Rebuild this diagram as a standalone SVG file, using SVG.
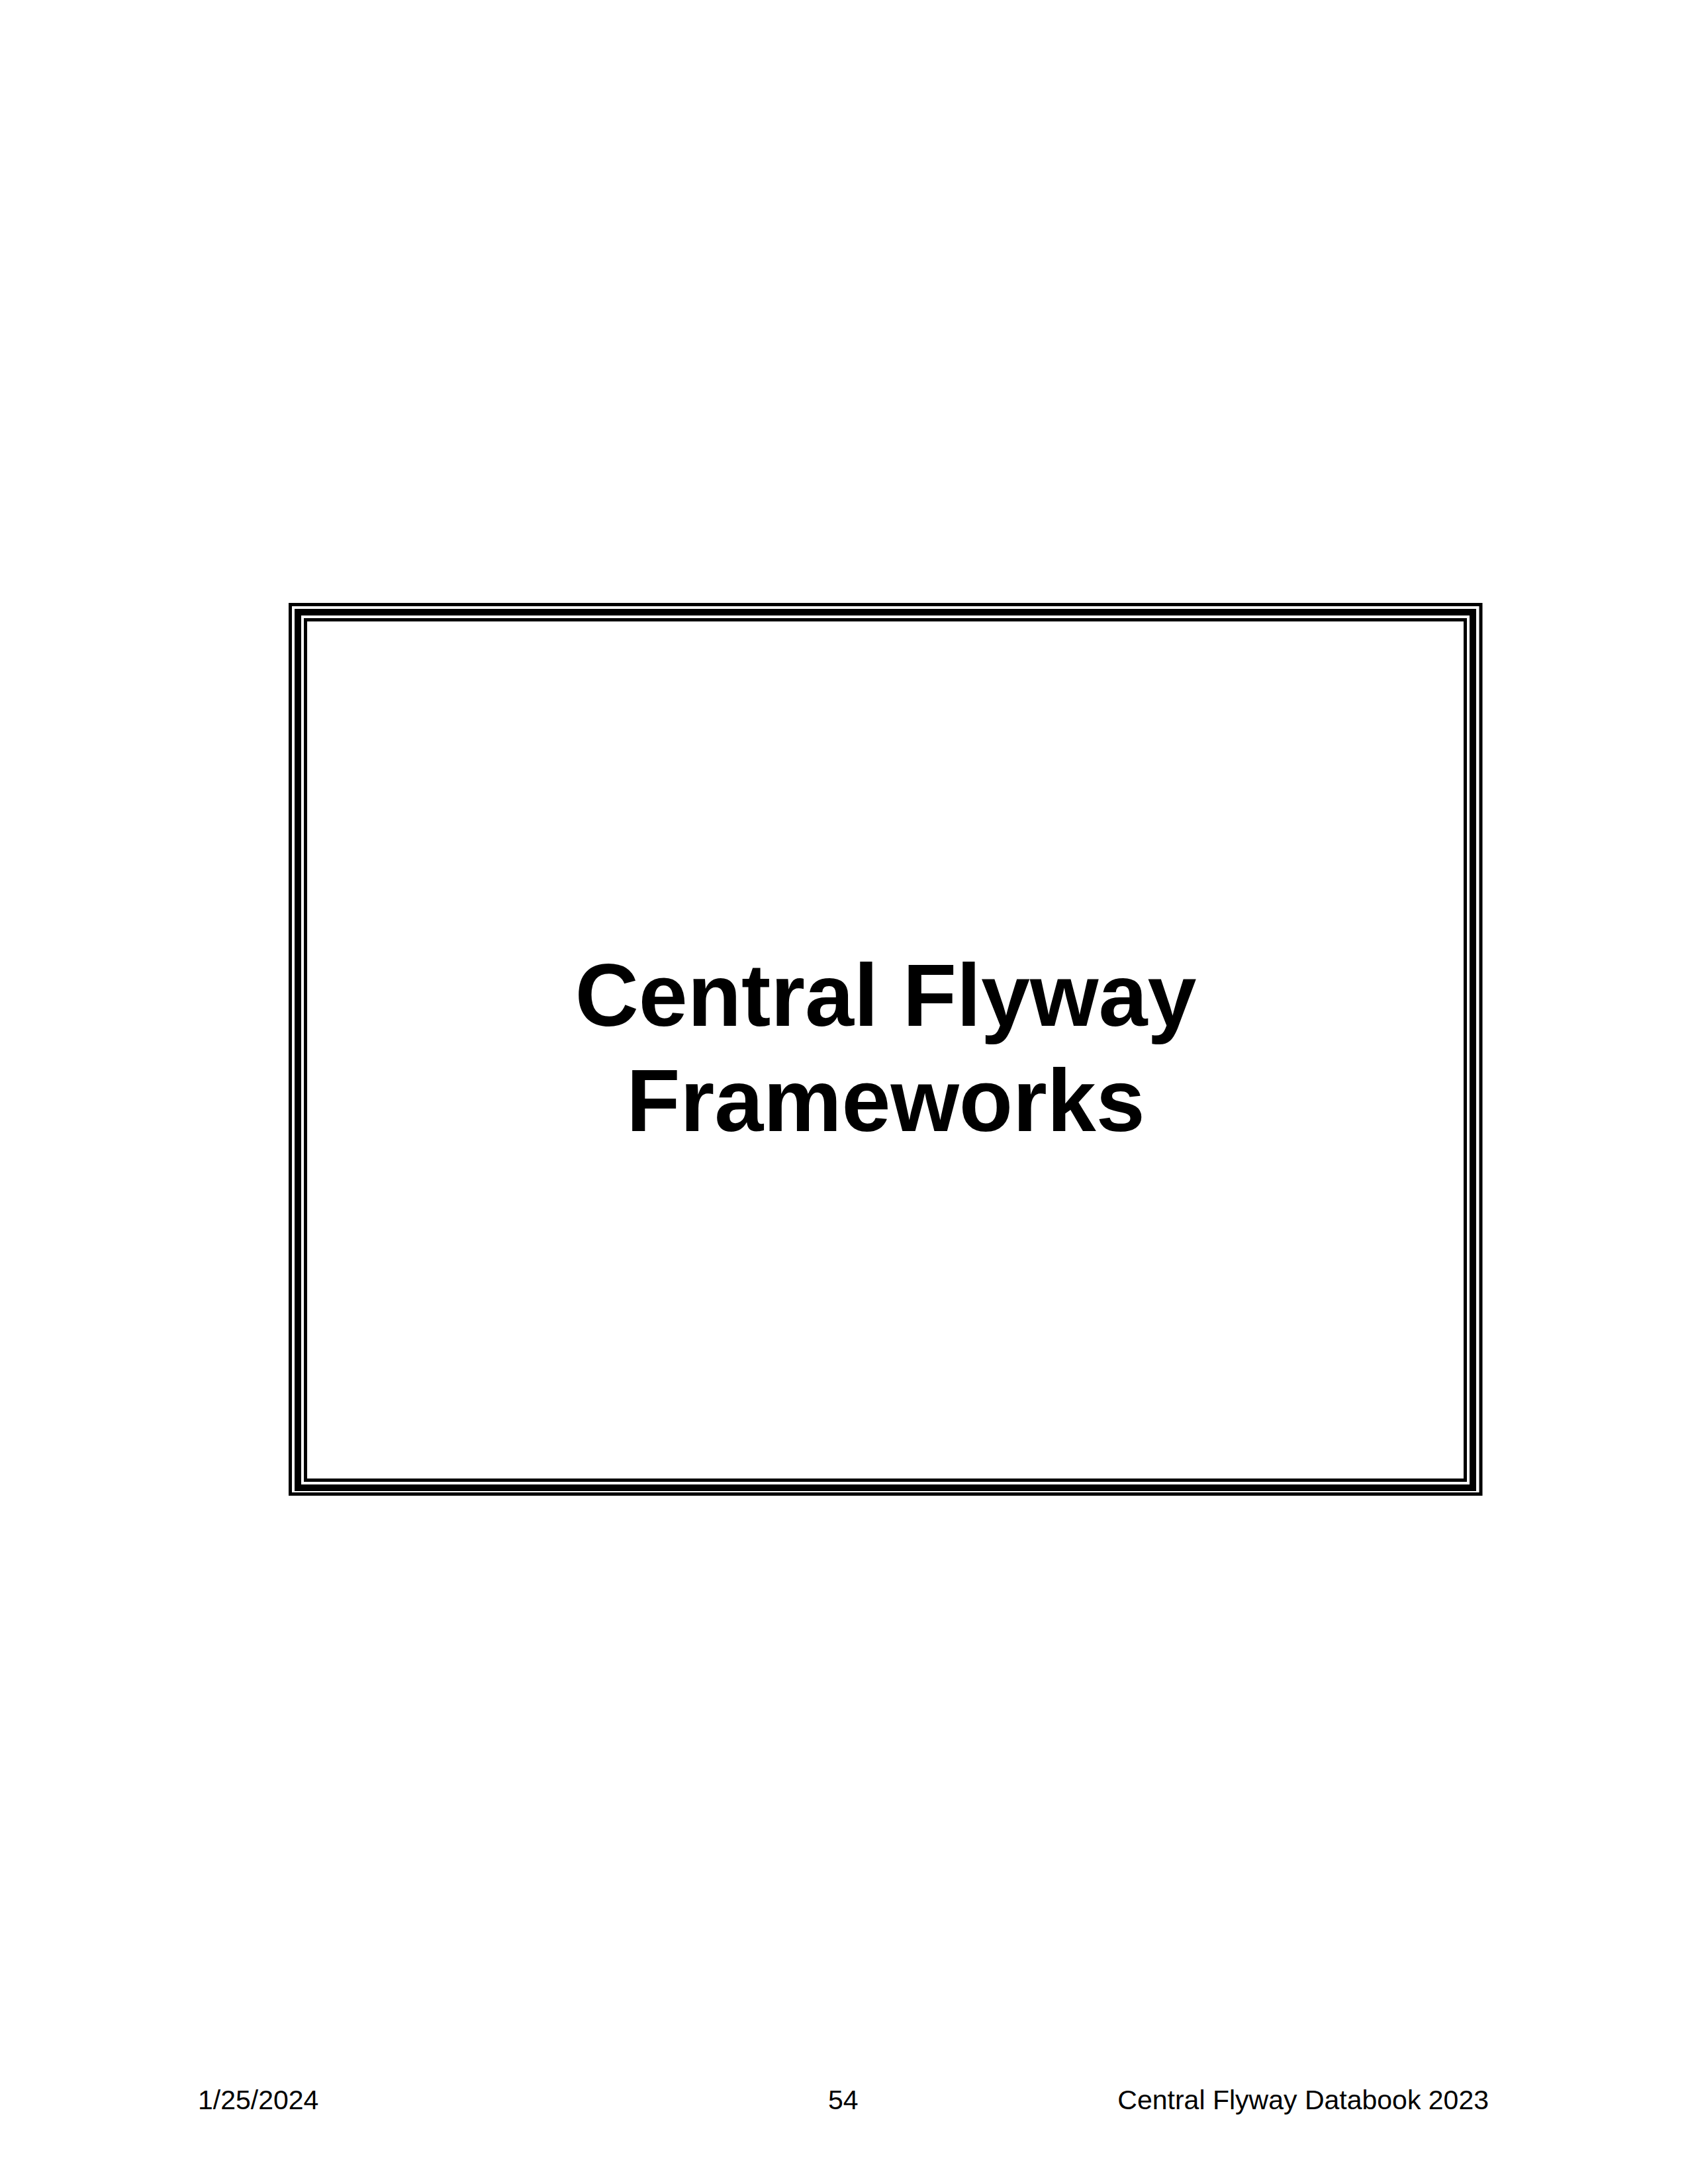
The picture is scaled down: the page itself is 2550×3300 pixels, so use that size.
<svg xmlns="http://www.w3.org/2000/svg" width="2550" height="3300" viewBox="0 0 2550 3300">
<style>
.frame{fill:none;stroke:#000}
.title{font-family:"Liberation Sans",Arial,sans-serif;font-weight:bold;font-size:133px;fill:#000;text-anchor:middle}
.foot{font-family:"Liberation Sans",Arial,sans-serif;font-size:41px;fill:#000}
</style>
<rect width="2550" height="3300" fill="#fff"/>
<g id="frame-box">
<rect class="frame" x="438.5" y="913.5" width="1798.5" height="1344" stroke-width="5"/>
<rect class="frame" x="450" y="925" width="1775" height="1323" stroke-width="10"/>
<rect class="frame" x="461.5" y="936.5" width="1752" height="1300" stroke-width="5"/>
<text class="title" x="1338" y="1550">Central Flyway</text>
<text class="title" x="1338" y="1709">Frameworks</text>
</g>
<g id="footer">
<text class="foot" x="299" y="3187">1/25/2024</text>
<text class="foot" x="1251" y="3187">54</text>
<text class="foot" x="2249" y="3187" text-anchor="end">Central Flyway Databook 2023</text>
</g>
<g id="connectors"/>
</svg>
